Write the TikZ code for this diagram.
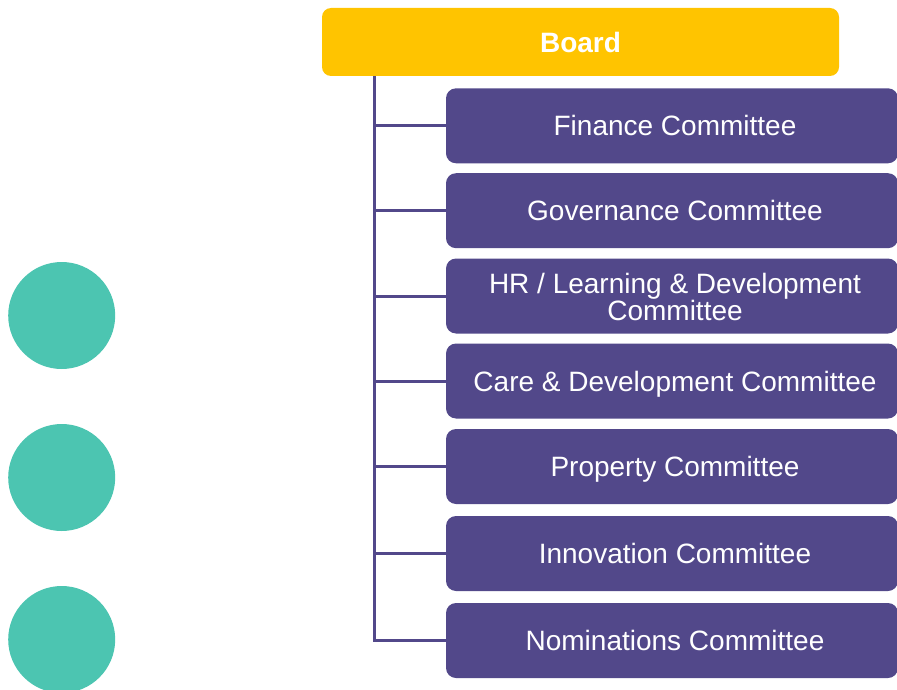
\documentclass[tikz,border=0pt]{standalone}
\usepackage{fontspec}
\setmainfont{Liberation Sans}
\definecolor{boardyellow}{HTML}{FFC400}
\definecolor{compurple}{HTML}{52488A}
\definecolor{dotteal}{HTML}{4CC5B1}
\begin{document}
\begin{tikzpicture}[x=1pt,y=-1pt,
  boardbox/.style={fill=boardyellow, rounded corners=9pt, minimum width=517pt, minimum height=68pt, inner sep=0pt, text=white, font=\fontsize{28}{26}\selectfont\bfseries},
  combox/.style={fill=compurple, rounded corners=10pt, minimum width=452pt, minimum height=75pt, inner sep=0pt},
  comtext/.style={text=white, align=center, inner sep=0pt, text height=20pt, text depth=0pt, font=\fontsize{28}{26}\selectfont},
  link/.style={draw=compurple, line width=3pt},
  dot/.style={circle, fill=dotteal, minimum size=107pt, inner sep=0pt}]
\useasboundingbox (0,0) rectangle (897,690);
\node[boardbox] (board) at (580.5,42) {Board};
\node[combox] (c1) at (672,125.8) {};
\node[combox] (c2) at (672,210.7) {};
\node[combox] (c3) at (672,296) {};
\node[combox] (c4) at (672,381) {};
\node[combox] (c5) at (672,466.5) {};
\node[combox] (c6) at (672,553.5) {};
\node[combox] (c7) at (672,640.5) {};
\node[comtext] (t1) at ([xshift=3pt]c1) {Finance Committee};
\node[comtext] (t2) at ([xshift=3pt]c2) {Governance Committee};
\node[comtext, text height=, text depth=] (t3) at ([xshift=3pt,yshift=-1pt]c3) {HR / Learning \& Development\\Committee};
\node[comtext] (t4) at ([xshift=3pt]c4) {Care \& Development Committee};
\node[comtext] (t5) at ([xshift=3pt]c5) {Property Committee};
\node[comtext] (t6) at ([xshift=3pt]c6) {Innovation Committee};
\node[comtext] (t7) at ([xshift=3pt]c7) {Nominations Committee};
\coordinate (top) at (374,76);
\draw[link] (top) |- (c7.west);
\foreach \i in {1,...,6}{
  \draw[link] (top |- c\i.west) -- (c\i.west);
}
\node[dot] (d1) at (61.7,315.5) {};
\node[dot] (d2) at (61.7,477.5) {};
\node[dot] (d3) at (61.7,639.5) {};
\end{tikzpicture}
\end{document}
